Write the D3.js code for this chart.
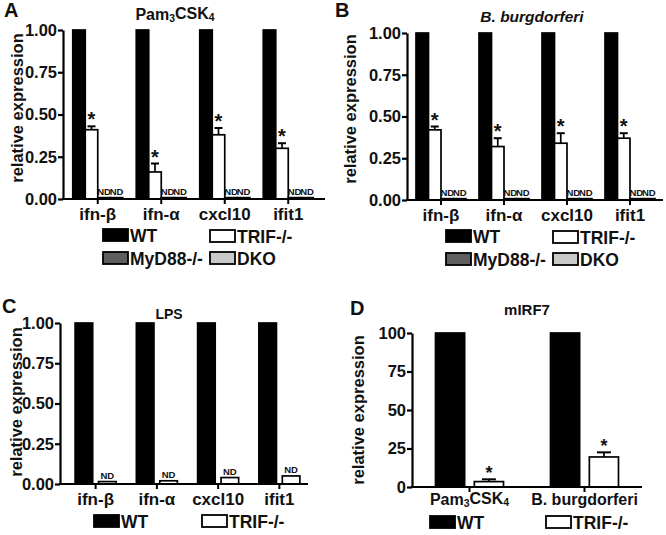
<!DOCTYPE html>
<html><head><meta charset="utf-8">
<script src="https://cdn.jsdelivr.net/npm/d3@7"></script>
<style>
body{margin:0;background:#fff}
text{font-family:"Liberation Sans",Arial,sans-serif;font-weight:bold;fill:#111}
</style>
</head><body>
<svg id="chart" width="666" height="535"></svg>
<script>
// ---------- data ----------
const genes = ["ifn-β", "ifn-α", "cxcl10", "ifit1"];
const series4 = ["WT", "TRIF-/-", "MyD88-/-", "DKO"];
const series2 = ["WT", "TRIF-/-"];

// Panel A: Pam3CSK4
const pamWT     = [1, 1, 1, 1];
const pamTRIF   = [0.41, 0.16, 0.38, 0.30];
const pamTRIFerr= [0.02, 0.05, 0.04, 0.03];
const pamMyD88  = [0.008, 0.008, 0.008, 0.008];
const pamDKO    = [0.008, 0.008, 0.008, 0.008];

// Panel B: B. burgdorferi
const bbWT      = [1, 1, 1, 1];
const bbTRIF    = [0.42, 0.32, 0.34, 0.37];
const bbTRIFerr = [0.02, 0.05, 0.06, 0.03];
const bbMyD88   = [0.008, 0.008, 0.008, 0.008];
const bbDKO     = [0.008, 0.008, 0.008, 0.008];

// Panel C: LPS
const lpsWT     = [1, 1, 1, 1];
const lpsTRIF   = [0.015, 0.02, 0.04, 0.05];

// Panel D: mIRF7
const irfCats   = ["Pam3CSK4", "B. burgdorferi"];
const irfWT     = [100, 100];
const irfTRIF   = [3.5, 19.5];
const irfTRIFerr= [1.5, 3];

const yTicks01  = [0, 0.25, 0.5, 0.75, 1];
const yTicks100 = [0, 25, 50, 75, 100];

const fills = {"WT": "#000", "TRIF-/-": "#fff", "MyD88-/-": "#5e5e5e", "DKO": "#c9c9c9"};

const svg = d3.select("#chart");

function richLabel(sel, label) {
  if (label === "Pam3CSK4") {
    sel.text(null);
    sel.append("tspan").text("Pam");
    sel.append("tspan").text("3").attr("font-size", "0.65em").attr("dy", "0.2em");
    sel.append("tspan").text("CSK").attr("dy", "-0.2em");
    sel.append("tspan").text("4").attr("font-size", "0.65em").attr("dy", "0.2em");
  } else sel.text(label);
}

function panel(cfg) {
  const g = svg.append("g");
  const y = d3.scaleLinear().domain([0, cfg.ymax]).range([cfg.yBot, cfg.yTop]);
  const x = d3.scaleBand().domain(cfg.cats).range(cfg.xRange);
  const xs = d3.scaleBand().domain(cfg.series).range(cfg.subRange).paddingInner(cfg.subPad);

  // bars
  cfg.series.forEach((s, si) => {
    const vals = cfg.values[si];
    g.selectAll(null).data(cfg.cats).enter().append("rect")
      .attr("x", (c) => x(c) + x.bandwidth() / 2 + xs(s))
      .attr("width", xs.bandwidth())
      .attr("y", (c, i) => y(vals[i]))
      .attr("height", (c, i) => cfg.yBot - y(vals[i]))
      .attr("fill", fills[s])
      .attr("stroke", "#000").attr("stroke-width", 1.7);
  });

  // error bars + stars (TRIF)
  if (cfg.err) {
    const s = "TRIF-/-";
    const vals = cfg.values[1];
    cfg.cats.forEach((c, i) => {
      const cx = x(c) + x.bandwidth() / 2 + xs(s) + xs.bandwidth() / 2;
      const top = y(vals[i] + cfg.err[i]);
      g.append("line").attr("x1", cx).attr("x2", cx).attr("y1", y(vals[i])).attr("y2", top)
        .attr("stroke", "#000").attr("stroke-width", 1.7);
      g.append("line").attr("x1", cx - cfg.cap).attr("x2", cx + cfg.cap).attr("y1", top).attr("y2", top)
        .attr("stroke", "#000").attr("stroke-width", 2);
      g.append("text").attr("x", cx).attr("y", top + cfg.starDy).attr("text-anchor", "middle")
        .attr("font-size", cfg.starSize).text("*");
    });
  }

  // ND labels
  if (cfg.nd) {
    cfg.nd.forEach(si => {
      const s = cfg.series[si];
      const vals = cfg.values[si];
      cfg.cats.forEach((c, i) => {
        const cx = x(c) + x.bandwidth() / 2 + xs(s) + xs.bandwidth() / 2;
        g.append("text").attr("x", cx).attr("y", y(vals[i]) - 3).attr("text-anchor", "middle")
          .attr("font-size", 9.5).attr("fill", "#222").text("ND");
      });
    });
  }

  // y axis
  const ya = d3.axisLeft(y).tickValues(cfg.yticks).tickFormat(cfg.fmt).tickSize(5).tickSizeOuter(0).tickPadding(1);
  const yg = g.append("g").attr("transform", `translate(${cfg.axX},0)`).call(ya);
  yg.select(".domain").attr("stroke-width", 2.2);
  yg.selectAll(".tick line").attr("stroke-width", 2.2);
  yg.selectAll(".tick text").attr("font-size", 16.5).attr("font-family", "Liberation Sans, Arial, sans-serif").attr("font-weight", "bold").attr("fill", "#111");

  // x axis
  const xa = d3.axisBottom(x).tickSize(5).tickSizeOuter(0).tickPadding(cfg.xPad);
  const xg = g.append("g").attr("transform", `translate(0,${cfg.yBot})`).call(xa);
  xg.select(".domain").remove();
  xg.append("line").attr("x1", cfg.axX - 1).attr("x2", cfg.xEnd).attr("y1", 0).attr("y2", 0)
    .attr("stroke", "#000").attr("stroke-width", 2.2);
  xg.selectAll(".tick line").attr("stroke-width", 2);
  xg.selectAll(".tick text").attr("font-size", cfg.xFont || 17).attr("font-family", "Liberation Sans, Arial, sans-serif").attr("font-weight", "bold").attr("fill", "#111")
    .each(function(d) { richLabel(d3.select(this), d); });

  // y label
  g.append("text").attr("transform", `translate(${cfg.ylabX},${cfg.ylabY}) rotate(-90)`)
    .attr("text-anchor", "middle").attr("dominant-baseline", "central").attr("font-size", 16.5).text("relative expression");

  // title
  const t = g.append("text").attr("x", cfg.titleX).attr("y", cfg.titleY).attr("text-anchor", "middle")
    .attr("font-size", cfg.titleSize || 14).attr("font-style", cfg.titleItalic ? "italic" : "normal");
  richLabel(t, cfg.title);

  // panel letter
  g.append("text").attr("x", cfg.letterX).attr("y", cfg.letterY).attr("font-size", 20).text(cfg.letter);

  // legend
  cfg.legend.forEach(([s, lx, ly]) => {
    g.append("rect").attr("x", lx).attr("y", ly).attr("width", 25).attr("height", 12)
      .attr("fill", fills[s]).attr("stroke", "#000").attr("stroke-width", 1.8);
    g.append("text").attr("x", lx + 27).attr("y", ly + 12.5).attr("font-size", 17.5).text(s);
  });
}

panel({
  letter: "A", letterX: 4, letterY: 17,
  title: "Pam3CSK4", titleX: 175, titleY: 20, titleSize: 16,
  cats: genes, series: series4,
  values: [pamWT, pamTRIF, pamMyD88, pamDKO], err: pamTRIFerr, nd: [2, 3],
  ymax: 1, yTop: 30, yBot: 199, axX: 63, xEnd: 325, xRange: [66, 320],
  subRange: [-25, 25], subPad: 0, cap: 4, starSize: 20, starDy: 0,
  yticks: yTicks01, fmt: d3.format(".2f"), xPad: 4,
  ylabX: 17, ylabY: 108,
  legend: [["WT", 103, 229], ["TRIF-/-", 210, 230], ["MyD88-/-", 103, 252], ["DKO", 210, 252]]
});

panel({
  letter: "B", letterX: 335, letterY: 17,
  title: "B. burgdorferi", titleItalic: true, titleX: 532, titleY: 22, titleSize: 15.5,
  cats: genes, series: series4,
  values: [bbWT, bbTRIF, bbMyD88, bbDKO], err: bbTRIFerr, nd: [2, 3],
  ymax: 1, yTop: 33, yBot: 200, axX: 407, xEnd: 663, xRange: [409.5, 661.5],
  subRange: [-25, 25], subPad: 0, cap: 4, starSize: 20, starDy: 0,
  yticks: yTicks01, fmt: d3.format(".2f"), xPad: 4,
  ylabX: 350, ylabY: 109,
  legend: [["WT", 446, 230], ["TRIF-/-", 553, 231], ["MyD88-/-", 446, 253], ["DKO", 553, 253]]
});

panel({
  letter: "C", letterX: 2, letterY: 313,
  title: "LPS", titleX: 169, titleY: 319, titleSize: 14,
  cats: genes, series: series2,
  values: [lpsWT, lpsTRIF], err: null, nd: [1],
  ymax: 1, yTop: 323, yBot: 484, axX: 60, xEnd: 308, xRange: [65, 310],
  subRange: [-20.5, 20.5], subPad: 0.25, cap: 4, starSize: 20, starDy: 0,
  yticks: yTicks01, fmt: d3.format(".2f"), xPad: 4,
  ylabX: 16, ylabY: 402,
  legend: [["WT", 94, 515], ["TRIF-/-", 202, 515]]
});

panel({
  letter: "D", letterX: 350, letterY: 315,
  title: "mIRF7", titleX: 527, titleY: 315, titleSize: 15,
  cats: irfCats, series: series2,
  values: [irfWT, irfTRIF], err: irfTRIFerr, nd: null,
  ymax: 100, yTop: 333, yBot: 487, axX: 412, xEnd: 642, xRange: [412, 642],
  subRange: [-34, 34], subPad: 0.25, cap: 7, starSize: 18, starDy: 0,
  yticks: yTicks100, fmt: d3.format("d"), xPad: 2, xFont: 16,
  ylabX: 358, ylabY: 410,
  legend: [["WT", 430, 516], ["TRIF-/-", 546, 516]]
});
</script>
</body></html>
